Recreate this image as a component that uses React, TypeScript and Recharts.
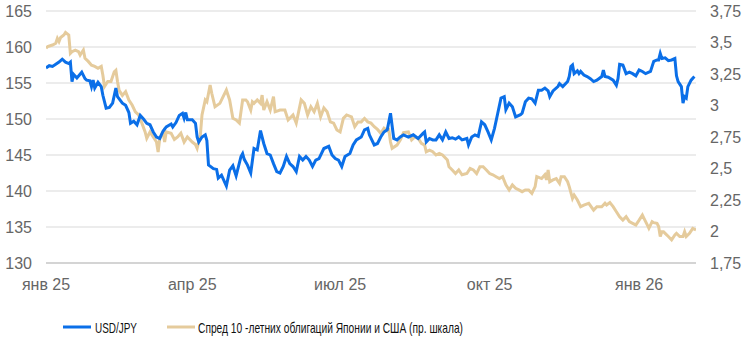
import React from "react";
import { LineChart, Line, XAxis, YAxis, CartesianGrid, Legend } from "recharts";

// days since 2025-01-01
const tickDays = [0, 90, 181, 273, 365];
const tickLabels = ["янв 25", "апр 25", "июл 25", "окт 25", "янв 26"];
const leftTicks = [130, 135, 140, 145, 150, 155, 160, 165];
const rightTicks = [1.75, 2, 2.25, 2.5, 2.75, 3, 3.25, 3.5, 3.75];
const seriesNames = ["USD/JPY", "Спред 10 -летних облигаций Японии и США (пр. шкала)"];

const usdJpy: [number, number][] = [
  [0, 157.1], [2, 157.4], [4, 157.3], [8, 157.9], [10, 158.3], [12, 157.9], [14, 157.7], [15, 157.9],
  [16, 155.2], [17, 156.2], [19, 155.7], [22, 156.5], [24, 155.6], [25, 155.4], [27, 155.3], [28, 154.5],
  [29, 155.4], [30, 154.3], [32, 155.1], [34, 154.5], [35, 153.3], [37, 151.5], [39, 151.6], [41, 152.2],
  [43, 154.3], [44, 153.1], [47, 152.2], [49, 151.9], [51, 150.9], [52, 149.4], [54, 149.7], [56, 149.2],
  [58, 150.5], [60, 150.0], [62, 149.4], [64, 149.2], [66, 148.2], [68, 147.5], [70, 147.3], [72, 148.3],
  [74, 148.9], [77, 149.3], [78, 148.9], [80, 149.5], [82, 150.5], [84, 150.8], [85, 150.1], [86, 150.9],
  [87, 149.9], [90, 149.9], [92, 149.4], [93, 147.5], [94, 146.8], [96, 147.5], [98, 147.8], [99, 147.0],
  [100, 143.6], [103, 143.1], [105, 143.0], [106, 141.8], [108, 142.2], [110, 141.2], [111, 140.7], [113, 142.9],
  [115, 143.5], [117, 142.1], [120, 144.8], [121, 145.2], [122, 144.4], [124, 143.6], [126, 142.5], [128, 145.9],
  [130, 145.7], [132, 148.4], [134, 146.6], [136, 145.2], [138, 145.0], [140, 143.8], [142, 142.7], [144, 142.5],
  [146, 143.4], [148, 144.8], [150, 143.8], [152, 143.4], [154, 142.7], [156, 144.8], [158, 144.3], [160, 144.8],
  [162, 144.3], [164, 143.4], [166, 144.3], [168, 144.5], [171, 145.9], [174, 146.2], [176, 145.0], [178, 144.5],
  [180, 144.3], [182, 143.4], [184, 144.8], [187, 145.2], [189, 146.4], [191, 147.1], [194, 147.5], [196, 148.5],
  [198, 148.7], [199, 147.8], [202, 146.4], [204, 146.6], [206, 147.5], [208, 148.2], [210, 148.5], [212, 150.8],
  [214, 147.3], [216, 147.1], [218, 147.5], [220, 147.8], [223, 147.5], [226, 147.8], [229, 147.3], [232, 148.0],
  [233, 148.2], [234, 146.8], [236, 147.3], [238, 147.1], [240, 147.1], [242, 147.8], [244, 147.1], [246, 148.2],
  [248, 147.3], [250, 147.4], [252, 147.2], [254, 147.5], [256, 147.1], [259, 147.3], [260, 146.4], [262, 147.5],
  [264, 147.8], [266, 147.6], [268, 149.6], [270, 149.2], [272, 148.2], [274, 147.1], [276, 148.7], [278, 150.8],
  [280, 152.9], [282, 153.1], [283, 151.3], [285, 152.2], [287, 151.7], [289, 150.3], [292, 150.6], [293, 150.8],
  [295, 152.4], [297, 152.9], [299, 152.8], [301, 152.2], [303, 154.0], [305, 154.0], [307, 154.3], [309, 153.9],
  [310, 153.1], [312, 153.9], [315, 154.5], [316, 154.9], [318, 154.5], [321, 155.2], [322, 155.9], [323, 157.3],
  [324, 157.5], [325, 156.3], [327, 156.7], [328, 156.3], [329, 156.6], [331, 156.1], [333, 155.9], [335, 155.6],
  [337, 155.2], [339, 155.4], [342, 155.9], [343, 156.8], [344, 155.9], [346, 155.8], [349, 155.4], [351, 154.7],
  [352, 155.6], [353, 157.6], [355, 157.5], [357, 156.3], [359, 156.5], [361, 156.3], [363, 156.0], [365, 156.8],
  [367, 156.6], [369, 156.3], [372, 156.6], [374, 158.0], [376, 158.2], [377, 158.2], [378, 159.1], [379, 158.4],
  [381, 158.5], [383, 158.1], [385, 158.2], [387, 158.4], [388, 156.0], [389, 155.2], [391, 154.5], [392, 152.2],
  [393, 153.1], [394, 152.9], [395, 154.5], [397, 155.4], [399, 155.9],
];

const spread: [number, number][] = [
  [0, 3.454], [1, 3.467], [4, 3.48], [6, 3.494], [7, 3.533], [8, 3.507], [9, 3.54], [11, 3.56],
  [12, 3.58], [14, 3.56], [15, 3.414], [16, 3.427], [18, 3.44], [20, 3.427], [21, 3.40], [23, 3.44],
  [24, 3.375], [26, 3.35], [28, 3.32], [30, 3.31], [32, 3.295], [34, 3.31], [35, 3.24], [36, 3.15],
  [38, 3.19], [40, 3.19], [42, 3.268], [43, 3.28], [44, 3.19], [45, 3.12], [47, 3.08], [49, 3.11],
  [51, 3.044], [53, 3.004], [55, 2.95], [57, 2.925], [59, 2.86], [61, 2.79], [62, 2.74], [64, 2.79],
  [66, 2.75], [68, 2.71], [69, 2.63], [70, 2.74], [72, 2.79], [73, 2.71], [74, 2.79], [77, 2.78],
  [79, 2.73], [81, 2.75], [83, 2.78], [85, 2.71], [87, 2.75], [90, 2.71], [92, 2.69], [93, 2.66],
  [95, 2.766], [96, 2.925], [98, 3.044], [99, 3.03], [101, 3.163], [102, 3.097], [104, 2.99], [107, 3.017],
  [109, 3.07], [111, 3.123], [113, 3.044], [115, 2.898], [117, 2.885], [119, 2.86], [121, 3.044], [123, 3.044],
  [124, 3.03], [126, 2.964], [127, 3.03], [128, 3.017], [130, 3.044], [132, 3.017], [133, 3.083], [134, 2.964],
  [136, 3.03], [138, 2.964], [140, 3.07], [141, 2.95], [144, 2.964], [147, 2.964], [149, 2.885], [152, 2.925],
  [154, 2.86], [157, 3.044], [159, 3.017], [161, 2.925], [163, 2.99], [165, 2.95], [167, 3.017], [169, 2.91],
  [171, 2.98], [173, 2.95], [175, 2.87], [177, 2.86], [179, 2.806], [181, 2.79], [183, 2.898], [185, 2.925],
  [188, 2.91], [190, 2.832], [192, 2.87], [194, 2.87], [196, 2.898], [198, 2.87], [200, 2.86], [202, 2.832],
  [204, 2.81], [206, 2.78], [208, 2.82], [210, 2.80], [211, 2.806], [212, 2.71], [213, 2.66], [216, 2.686],
  [218, 2.726], [220, 2.784], [223, 2.79], [225, 2.726], [227, 2.75], [229, 2.74], [231, 2.70], [233, 2.686],
  [234, 2.633], [236, 2.646], [238, 2.633], [240, 2.607], [242, 2.62], [244, 2.607], [247, 2.567], [248, 2.514],
  [250, 2.488], [252, 2.46], [254, 2.488], [256, 2.45], [259, 2.46], [261, 2.50], [263, 2.488], [265, 2.46],
  [267, 2.514], [269, 2.514], [271, 2.488], [273, 2.46], [275, 2.45], [277, 2.435], [279, 2.42], [281, 2.435],
  [283, 2.37], [285, 2.33], [287, 2.37], [289, 2.343], [291, 2.33], [293, 2.316], [295, 2.33], [297, 2.33],
  [299, 2.303], [301, 2.356], [302, 2.435], [305, 2.42], [307, 2.45], [308, 2.41], [309, 2.488], [310, 2.395],
  [312, 2.41], [314, 2.42], [316, 2.382], [317, 2.435], [319, 2.435], [321, 2.395], [322, 2.356], [324, 2.263],
  [325, 2.29], [327, 2.25], [329, 2.197], [331, 2.21], [334, 2.224], [337, 2.17], [339, 2.197], [342, 2.197],
  [344, 2.224], [345, 2.21], [347, 2.229], [349, 2.197], [351, 2.157], [353, 2.117], [355, 2.09], [357, 2.117],
  [359, 2.078], [361, 2.065], [363, 2.052], [365, 2.09], [367, 2.13], [368, 2.104], [370, 2.052], [371, 2.025],
  [373, 2.078], [374, 2.07], [376, 2.065], [377, 2.04], [378, 1.96], [379, 1.998], [380, 1.998], [381, 1.985],
  [383, 1.96], [385, 1.933], [387, 1.972], [388, 1.985], [390, 1.96], [392, 1.96], [393, 1.998], [394, 1.96],
  [396, 1.985], [398, 2.025], [400, 2.012],
];

const BLUE = "#0b6fe8";
const TAN = "#e5cb9c";
const TEXT = "#666666";
const FONT = "'Liberation Sans', Arial, sans-serif";

const usdData = usdJpy.map(([d, v]) => ({ d, v }));
const spreadData = spread.map(([d, v]) => ({ d, v }));

const fmtComma = (v: number) => String(v).replace(".", ",");

const LegendContent = () => (
  <svg width={746} height={62} style={{ display: "block" }}>
    <line x1={63} x2={91} y1={34} y2={34} stroke={BLUE} strokeWidth={3} />
    <text x={95} y={39.5} fontSize={15} fill="#111" fontFamily={FONT} textLength={42} lengthAdjust="spacingAndGlyphs">
      {seriesNames[0]}
    </text>
    <line x1={167} x2={195} y1={34} y2={34} stroke={TAN} strokeWidth={3} />
    <text x={198} y={39.5} fontSize={15} fill="#111" fontFamily={FONT} textLength={265} lengthAdjust="spacingAndGlyphs">
      {seriesNames[1]}
    </text>
  </svg>
);

export default function App() {
  return (
    <div style={{ position: "absolute", left: 0, top: 0, background: "#fff" }}>
      <LineChart width={746} height={355} margin={{ top: 11, right: 0, bottom: 0, left: 0 }}>
        <CartesianGrid yAxisId="left" vertical={false} stroke="#d9d9d9" strokeWidth={1} />
        <XAxis
          dataKey="d"
          type="number"
          domain={[0, 400]}
          ticks={tickDays}
          tickFormatter={(v: number) => tickLabels[tickDays.indexOf(v)] ?? ""}
          tickLine={false}
          axisLine={{ stroke: "#cccccc", strokeWidth: 1.5 }}
          tick={{ fill: TEXT, fontSize: 16, fontFamily: FONT }}
          tickMargin={10}
          height={30}
          allowDataOverflow
        />
        <YAxis
          yAxisId="left"
          orientation="left"
          domain={[130, 165]}
          ticks={leftTicks}
          width={46}
          tickLine={false}
          axisLine={false}
          tick={{ fill: TEXT, fontSize: 16, fontFamily: FONT }}
          tickMargin={8}
          allowDataOverflow
        />
        <YAxis
          yAxisId="right"
          orientation="right"
          domain={[1.75, 3.75]}
          ticks={rightTicks}
          width={50}
          tickLine={false}
          axisLine={false}
          tick={{ fill: TEXT, fontSize: 16, fontFamily: FONT }}
          tickFormatter={fmtComma}
          tickMargin={8}
          allowDataOverflow
        />
        <Legend verticalAlign="bottom" height={62} content={LegendContent} />
        <Line
          yAxisId="right"
          data={spreadData}
          dataKey="v"
          name={seriesNames[1]}
          stroke={TAN}
          strokeWidth={3}
          dot={false}
          type="linear"
          isAnimationActive={false}
        />
        <Line
          yAxisId="left"
          data={usdData}
          dataKey="v"
          name={seriesNames[0]}
          stroke={BLUE}
          strokeWidth={3}
          dot={false}
          type="linear"
          isAnimationActive={false}
        />
      </LineChart>
    </div>
  );
}
